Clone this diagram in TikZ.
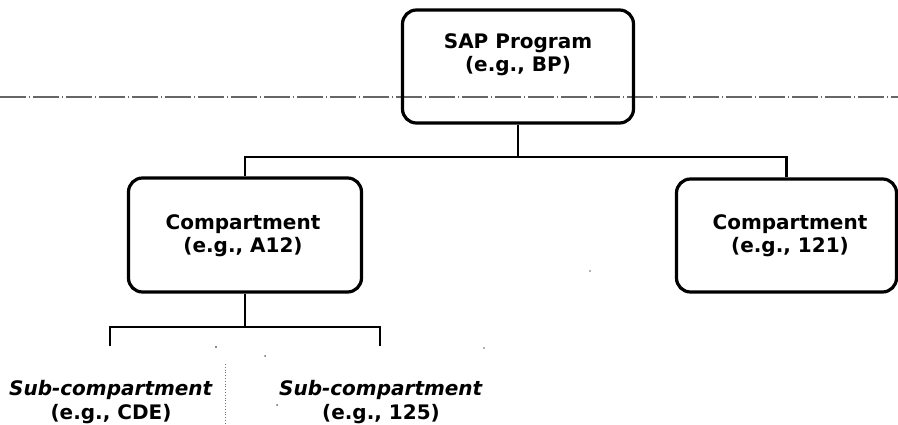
\documentclass[tikz,border=0pt]{standalone}
\usepackage{fontspec}
\setmainfont{DejaVu Sans}
\begin{document}
\begin{tikzpicture}[x=1pt,y=-1pt,
  box/.style={draw=black, line width=3.2pt, rounded corners=14pt, inner sep=0pt},
  lbl/.style={font=\fontsize{20}{23}\selectfont\bfseries, align=center, inner sep=0pt},
  sublbl/.style={font=\fontsize{20}{24}\selectfont\bfseries, align=center, inner sep=0pt},
  conn/.style={draw=black, line width=2.8pt},
  scanline/.style={draw=black!60, line width=1.1pt, dash pattern=on 26pt off 3pt on 1pt off 3pt},
  speck/.style={fill=black!60, draw=none}]
\useasboundingbox (0,0) rectangle (898,425);
% scan artefact line
\coordinate (dl) at (0,97);
\coordinate (dr) at (898,97);
\draw[scanline] (dl) -- (dr);
% boxes
\node[box, minimum width=231pt, minimum height=113pt] (sap) at (518,66.5) {};
\node[lbl] (saptxt) at (518,55) {SAP Program\\(e.g., BP)};
\node[box, minimum width=233pt, minimum height=114pt] (compL) at (245,235) {};
\node[lbl] (compLtxt) at (243,236) {Compartment\\(e.g., A12)};
\node[box, minimum width=220pt, minimum height=113pt] (compR) at (786.5,235.5) {};
\node[lbl] (compRtxt) at (790,236) {Compartment\\(e.g., 121)};
% connectors
\coordinate (j1) at (518,157);
\draw[conn] (sap.south) -- (j1);
\draw[conn] (compL.north) |- (j1) -| (compR.north);
\coordinate (j2) at (245,327);
\coordinate (t1) at (110,346);
\coordinate (t2) at (380,346);
\draw[conn] (compL.south) -- (j2);
\draw[conn] (t1) |- (j2) -| (t2);
% sub-compartments
\node[sublbl] (sub1) at (111,402) {\textit{Sub-compartment}\\(e.g., CDE)};
\node[sublbl] (sub2) at (381,402) {\textit{Sub-compartment}\\(e.g., 125)};
% faint dotted scan mark
\coordinate (v1) at (225,364);
\coordinate (v2) at (225,425);
\draw[black!55, line width=0.8pt, dotted] (v1) -- (v2);
\fill[speck] (216,347) circle (1.2pt);
\fill[speck] (265,356) circle (1pt);
\fill[speck] (277,405) circle (1pt);
\fill[speck] (484,348) circle (0.8pt);
\fill[speck] (590,271) circle (0.8pt);
\end{tikzpicture}
\end{document}
